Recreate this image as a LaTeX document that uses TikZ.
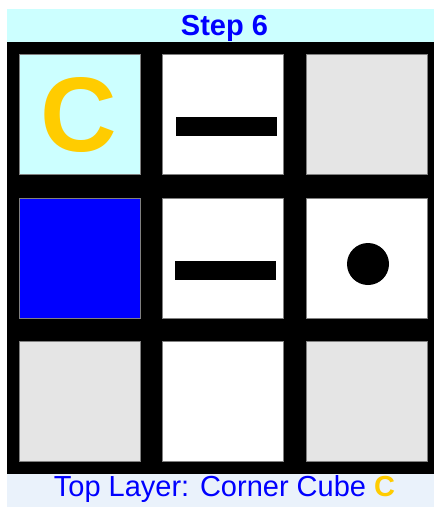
\documentclass[tikz,border=0pt]{standalone}
\usepackage{fontspec}
\setmainfont{Liberation Sans}
\definecolor{titlebg}{HTML}{CCFFFF}
\definecolor{footbg}{HTML}{EAF2FB}
\definecolor{cubeyellow}{HTML}{FFCC00}
\definecolor{cellgrey}{HTML}{E5E5E5}
\definecolor{cellline}{HTML}{808080}
\begin{document}
\begin{tikzpicture}[x=1pt,y=-1pt,
  cell/.style={draw=cellline,line width=0.4pt,minimum width=121pt,minimum height=120pt,inner sep=0pt,outer sep=0pt},
  barmark/.style={fill=black,draw=none,minimum width=101pt,minimum height=19pt,inner sep=0pt},
  dotmark/.style={circle,fill=black,draw=none,minimum size=42pt,inner sep=0pt}]
\useasboundingbox (0,0) rectangle (434,512);
% title band
\node[fill=titlebg,minimum width=427pt,minimum height=33pt,inner sep=0pt] (title) at (220.5,25.5) {};
\node[text=blue,font=\bfseries\fontsize{29}{32}\selectfont,anchor=base,inner sep=0pt] (titletext) at (224.5,35) {Step 6};
% black frame
\node[fill=black,minimum width=427pt,minimum height=432pt,inner sep=0pt] (frame) at (220.5,258) {};
% cells
\node[cell,fill=titlebg] (c11) at (79.5,114) {};
\node[cell,fill=white] (c12) at (222.5,114) {};
\node[cell,fill=cellgrey] (c13) at (366.5,114) {};
\node[cell,fill=blue] (c21) at (79.5,258) {};
\node[cell,fill=white] (c22) at (222.5,258) {};
\node[cell,fill=white] (c23) at (366.5,258) {};
\node[cell,fill=cellgrey] (c31) at (79.5,401.5) {};
\node[cell,fill=white] (c32) at (222.5,401.5) {};
\node[cell,fill=cellgrey] (c33) at (366.5,401.5) {};
% marks
\node[text=cubeyellow,font=\bfseries\fontsize{106}{106}\selectfont,inner sep=0pt] (cletter) at (79,115) {C};
\node[barmark] (bar1) at (226.5,126) {};
\node[barmark] (bar2) at (225,270) {};
\node[dotmark] (dot) at (368,264) {};
% footer
\node[fill=footbg,minimum width=427pt,minimum height=33pt,inner sep=0pt] (foot) at (220.5,490.5) {};
\node[text=blue,font=\fontsize{29}{32}\selectfont,anchor=base,inner sep=0pt] (foottext) at (224.5,496) {Top Layer: Corner Cube \textcolor{cubeyellow}{\bfseries C}};
\end{tikzpicture}
\end{document}
